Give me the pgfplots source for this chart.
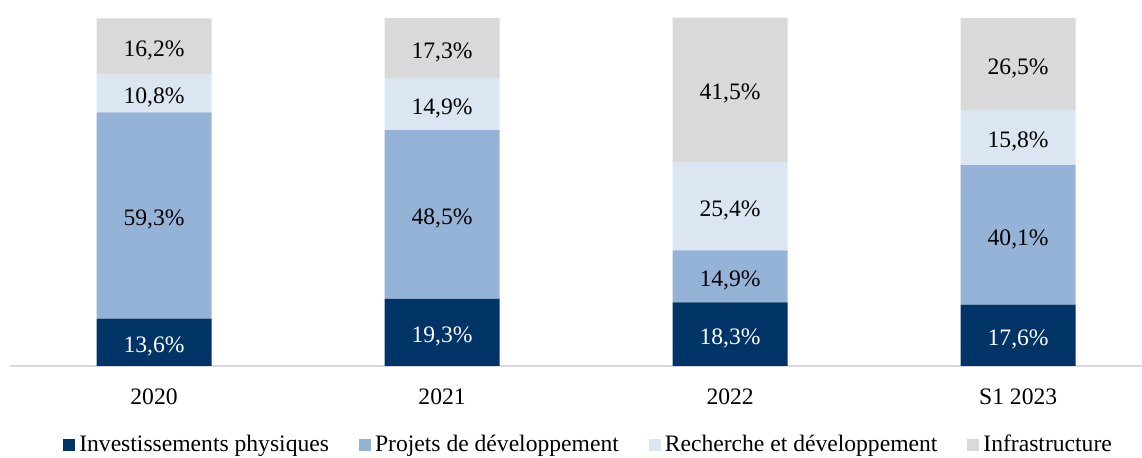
\documentclass[border=0pt]{standalone}
\usepackage{pgfplots}
\pgfplotsset{compat=1.18}
\usepackage{fontspec}
\setmainfont{Liberation Serif}
\definecolor{cNavy}{HTML}{003366}
\definecolor{cBlue}{HTML}{95B3D7}
\definecolor{cLight}{HTML}{DCE6F2}
\definecolor{cGray}{HTML}{D9D9D9}
\begin{document}
\fontsize{11.8}{14}\selectfont
\begin{tikzpicture}
\begin{axis}[
  at={(0,0)}, anchor=south west,
  scale only axis, width=566pt, height=174pt,
  ybar stacked, bar width=57.5pt,
  ymin=0, ymax=100, xmin=-0.5, xmax=3.43,
  clip=false,
  hide y axis,
  axis x line*=bottom,
  x axis line style={draw=cGray, line width=1pt, -},
  xtick=data, xticklabels={2020,2021,2022,S1 2023},
  major tick length=0pt,
  xticklabel style={anchor=base, yshift=-19.5pt},
  point meta=rawy,
  nodes near coords={\pgfmathprintnumber[fixed,fixed zerofill,precision=1,use comma,assume math mode=true]{\pgfplotspointmeta}\%},
  every node near coord/.append style={anchor=center, yshift=-2pt},
  legend style={at={(0.512,-0.227)}, anchor=center, draw=none, fill=none,
    /tikz/every even column/.append style={column sep=13pt}},
  legend columns=4,
  legend cell align=left,
  legend image code/.code={\fill[#1] (0pt,-3pt) rectangle (6pt,3pt);},
]
\addplot[fill=cNavy, draw=none, every node near coord/.append style={text=white}] coordinates {(0,13.6) (1,19.3) (2,18.3) (3,17.6)};
\addplot[fill=cBlue, draw=none] coordinates {(0,59.3) (1,48.5) (2,14.9) (3,40.1)};
\addplot[fill=cLight, draw=none] coordinates {(0,10.8) (1,14.9) (2,25.4) (3,15.8)};
\addplot[fill=cGray, draw=none] coordinates {(0,16.2) (1,17.3) (2,41.5) (3,26.5)};
\legend{Investissements physiques, Projets de développement, Recherche et développement, Infrastructure}
\end{axis}
\pgfresetboundingbox
\path (-5pt,-46pt) rectangle (566pt,183pt);
\end{tikzpicture}
\end{document}
